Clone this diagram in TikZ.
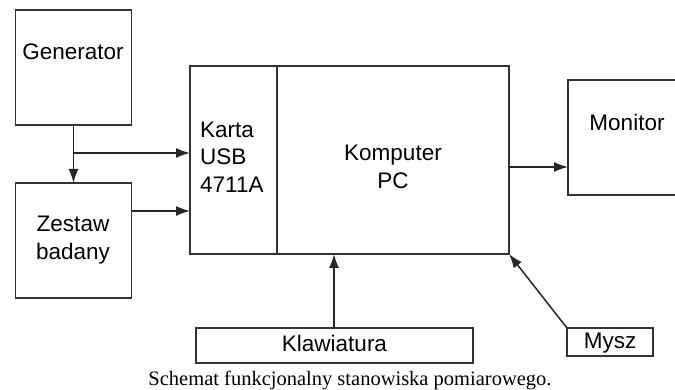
\documentclass[tikz,border=0pt]{standalone}
\usepackage{fontspec}
\setmainfont{Liberation Sans}
\newfontfamily\capfont{Liberation Serif}
\usetikzlibrary{arrows.meta}
\begin{document}
\begin{tikzpicture}[x=1pt,y=-1pt,
  box/.style={draw=black!80,line width=1.6pt,rectangle,inner sep=0pt,outer sep=0pt},
  lbl/.style={inner sep=0pt,font=\fontsize{22.5}{27.5}\selectfont,align=center},
  arr/.style={draw=black!85,line width=1.5pt,-{Latex[length=14pt,width=10pt]}}]
\clip (0,0) rectangle (675,390);
\fill[white] (0,0) rectangle (675,390);
% boxes
\node[box,minimum width=116pt,minimum height=115pt] (gen) at (73.5,67.5) {};
\node[box,minimum width=116pt,minimum height=115pt] (zes) at (73.5,240.5) {};
\node[box,minimum width=87pt,minimum height=188pt] (karta) at (233.5,160) {};
\node[box,minimum width=232pt,minimum height=188pt] (komp) at (393,160) {};
\node[box,minimum width=122pt,minimum height=115pt] (mon) at (629,137.5) {};
\node[box,minimum width=277pt,minimum height=35pt] (klaw) at (334.5,345.5) {};
\node[box,minimum width=86pt,minimum height=28pt] (mysz) at (610,342) {};
% texts
\node[lbl] (tgen) at (73,52) {Generator};
\node[lbl] (tzes) at (73,240) {Zestaw\\badany};
\node[lbl,anchor=west,align=left] (tkarta) at (200,157) {Karta\\USB\\4711A};
\node[lbl] (tkomp) at (393,167) {Komputer\\PC};
\node[lbl] (tmon) at (627,122) {Monitor};
\node[lbl] (tklaw) at (334.5,343) {Klawiatura};
\node[lbl] (tmysz) at (610,343) {Mysz};
\node[inner sep=0pt,font=\capfont\fontsize{20.5}{24}\selectfont] (cap) at (350,380) {Schemat funkcjonalny stanowiska pomiarowego.};
% connectors
\coordinate (j) at (73,153);
\coordinate (zo) at (132,211);
\coordinate (ko) at (509,167);
\coordinate (kl) at (334,328);
\draw[arr] (gen.south) -- (zes.north);
\draw[arr] (j) -- (j -| karta.west);
\draw[arr] (zo) -- (zo -| karta.west);
\draw[arr] (ko) -- (ko -| mon.west);
\draw[arr] (kl) -- (kl |- komp.south);
\draw[arr] (mysz.north west) -- (komp.south east);
\end{tikzpicture}
\end{document}
